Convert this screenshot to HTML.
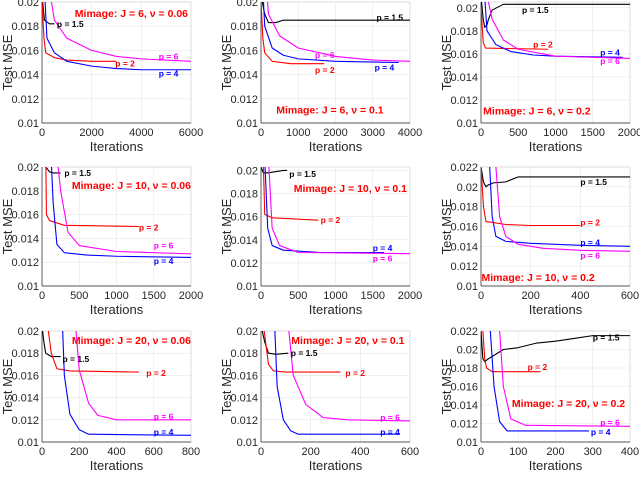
<!DOCTYPE html>
<html><head><meta charset="utf-8">
<style>
body{margin:0;background:#fff;}
svg{display:block;font-family:"Liberation Sans",sans-serif;}
</style></head>
<body>
<svg id="chart" width="640" height="477" viewBox="0 0 640 477"></svg>
<script>
// ---- data ----
const colX0 = [42, 261, 481];
const rowY = [[2,123],[167,286],[331,442]];
const panelXMax = [6000,4000,2000, 2000,2000,600, 800,600,400];
const panelYMax = [0.02,0.02,0.0205, 0.02,0.0203,0.022, 0.02,0.02,0.022];
const panelXTicks = [[0,2000,4000,6000],[0,1000,2000,3000,4000],[0,500,1000,1500,2000],
  [0,500,1000,1500,2000],[0,500,1000,1500,2000],[0,200,400,600],
  [0,200,400,600,800],[0,200,400,600],[0,100,200,300,400]];
const yTicks20 = [0.01,0.012,0.014,0.016,0.018,0.02];
const yTicks22 = [0.01,0.012,0.014,0.016,0.018,0.02,0.022];
const panelTitles = ["Mimage: J = 6, ν = 0.06","Mimage: J = 6, ν = 0.1","Mimage: J = 6, ν = 0.2",
  "Mimage: J = 10, ν = 0.06","Mimage: J = 10, ν = 0.1","Mimage: J = 10, ν = 0.2",
  "Mimage: J = 20, ν = 0.06","Mimage: J = 20, ν = 0.1","Mimage: J = 20, ν = 0.2"];
const titlePos = [[3600,0.0191],[1850,0.0111],[750,0.0111],[1200,0.0185],[1200,0.0185],[230,0.0109],[480,0.0192],[350,0.0192],[235,0.0142]];
const seriesNames = ["p = 1.5","p = 2","p = 4","p = 6"];
const seriesColors = ["#000000","#ff0000","#0000ff","#ff00ff"];
const p1Black=[[0,0.0205],[100,0.0185],[300,0.0182],[500,0.0182]];
const p1Red=[[0,0.02],[80,0.017],[150,0.0158],[500,0.0154],[1000,0.0152],[2000,0.0151],[3000,0.0151]];
const p1Blue=[[100,0.021],[200,0.017],[500,0.0158],[1000,0.0151],[2000,0.0147],[3000,0.0145],[4000,0.0144],[6000,0.0144]];
const p1Mag=[[300,0.021],[500,0.0185],[1000,0.017],[2000,0.016],[3000,0.0155],[4000,0.0153],[6000,0.0151]];
const p2Black=[[0,0.0205],[100,0.019],[200,0.0183],[400,0.0183],[600,0.0185],[4000,0.0185]];
const p2Red=[[0,0.02],[50,0.017],[100,0.0158],[300,0.0151],[800,0.0149],[1700,0.0149]];
const p2Blue=[[50,0.021],[100,0.018],[300,0.0162],[600,0.0156],[1000,0.0153],[2000,0.0151],[3700,0.015]];
const p2Mag=[[150,0.021],[200,0.019],[500,0.0172],[1000,0.0162],[2000,0.0155],[3000,0.0152],[4000,0.0151]];
const p3Black=[[0,0.021],[30,0.019],[50,0.0183],[80,0.0185],[100,0.019],[150,0.0198],[300,0.0203],[2000,0.0203]];
const p3Red=[[0,0.02],[30,0.017],[60,0.0165],[900,0.0164]];
const p3Blue=[[50,0.021],[80,0.018],[200,0.0168],[400,0.0162],[700,0.0159],[1000,0.0158],[1900,0.0157]];
const p3Mag=[[100,0.0205],[150,0.019],[300,0.0172],[500,0.0164],[1000,0.0158],[2000,0.0156]];
const p4Black=[[0,0.0205],[50,0.02],[100,0.0196],[150,0.0195],[250,0.0195]];
const p4Red=[[50,0.021],[60,0.016],[100,0.0155],[300,0.0151],[1300,0.015]];
const p4Blue=[[120,0.021],[150,0.017],[200,0.0135],[300,0.0128],[600,0.0126],[1000,0.0125],[2000,0.0124]];
const p4Mag=[[200,0.021],[250,0.018],[350,0.0145],[500,0.0134],[1000,0.0129],[2000,0.0127]];
const p5Black=[[0,0.0203],[30,0.0198],[100,0.0198],[300,0.02],[350,0.02]];
const p5Red=[[30,0.021],[50,0.0162],[150,0.0159],[770,0.0157]];
const p5Blue=[[50,0.021],[90,0.015],[150,0.0135],[300,0.0131],[800,0.0129],[1650,0.0129]];
const p5Mag=[[100,0.021],[150,0.015],[250,0.0135],[500,0.0129],[2000,0.0128]];
const p6Black=[[0,0.022],[10,0.0205],[20,0.02],[30,0.0202],[50,0.0204],[100,0.0205],[150,0.021],[600,0.021]];
const p6Red=[[0,0.022],[10,0.018],[20,0.0165],[50,0.0164],[100,0.0162],[200,0.0161],[400,0.0161]];
const p6Blue=[[35,0.022],[45,0.017],[60,0.015],[100,0.0145],[200,0.0143],[400,0.0141],[600,0.014]];
const p6Mag=[[60,0.022],[75,0.017],[100,0.015],[150,0.0142],[250,0.0138],[400,0.0136],[600,0.0135]];
const p7Black=[[0,0.0205],[10,0.019],[20,0.018],[50,0.0177],[100,0.0177]];
const p7Red=[[30,0.0205],[50,0.018],[80,0.0166],[150,0.0164],[520,0.0163]];
const p7Blue=[[110,0.0205],[120,0.016],[150,0.0125],[200,0.0111],[250,0.0107],[800,0.0106]];
const p7Mag=[[180,0.0205],[200,0.0165],[250,0.0135],[300,0.0124],[400,0.012],[800,0.012]];
const p8Black=[[0,0.0205],[15,0.019],[30,0.018],[60,0.0179],[110,0.018]];
const p8Red=[[10,0.0205],[30,0.017],[50,0.0164],[100,0.0163],[320,0.0163]];
const p8Blue=[[55,0.0205],[65,0.015],[90,0.012],[120,0.011],[150,0.0107],[560,0.0107]];
const p8Mag=[[110,0.0205],[130,0.016],[180,0.0134],[250,0.0122],[350,0.012],[600,0.0119]];
const p9Black=[[0,0.022],[5,0.019],[10,0.0187],[20,0.019],[40,0.0195],[60,0.02],[100,0.0202],[150,0.0207],[200,0.0209],[250,0.0212],[300,0.0215],[400,0.0215]];
const p9Red=[[5,0.022],[10,0.019],[15,0.018],[30,0.0176],[160,0.0176]];
const p9Blue=[[25,0.022],[35,0.016],[50,0.0122],[70,0.0112],[290,0.0112]];
const p9Mag=[[50,0.022],[60,0.016],[80,0.0125],[120,0.0118],[400,0.0117]];
const panelSeries=[[p1Black,p1Red,p1Blue,p1Mag],[p2Black,p2Red,p2Blue,p2Mag],[p3Black,p3Red,p3Blue,p3Mag],
 [p4Black,p4Red,p4Blue,p4Mag],[p5Black,p5Red,p5Blue,p5Mag],[p6Black,p6Red,p6Blue,p6Mag],
 [p7Black,p7Red,p7Blue,p7Mag],[p8Black,p8Red,p8Blue,p8Mag],[p9Black,p9Red,p9Blue,p9Mag]];
const labelPos=[[[600,0.0182],[2950,0.0149],[4700,0.0141],[4700,0.0155]],
 [[3100,0.0187],[1450,0.0144],[3050,0.0146],[1450,0.0156]],
 [[550,0.0198],[700,0.0168],[1600,0.0161],[1600,0.0154]],
 [[300,0.0195],[1300,0.0149],[1500,0.0121],[1500,0.0134]],
 [[380,0.0197],[800,0.0157],[1500,0.0133],[1500,0.0124]],
 [[400,0.0205],[400,0.0164],[400,0.0144],[400,0.0131]],
 [[110,0.0175],[560,0.0162],[600,0.0109],[600,0.0123]],
 [[120,0.018],[340,0.0162],[480,0.0109],[480,0.0122]],
 [[300,0.0213],[125,0.0181],[295,0.0111],[320,0.0121]]];

// ---- render ----
const NS="http://www.w3.org/2000/svg";
const svg=document.getElementById('chart');
function mk(tag,attrs,parent){const e=document.createElementNS(NS,tag);for(const k in attrs)e.setAttribute(k,attrs[k]);(parent||svg).appendChild(e);return e;}
const W=149;
const defs=mk('defs',{});
for(let p=0;p<9;p++){
  const r=Math.floor(p/3),c=p%3;
  const x0=colX0[c],x1=x0+W,yb=rowY[r][1],yt=rowY[r][0];
  const yMin=0.01,yMax=panelYMax[p],xMax=panelXMax[p];
  const xs=v=>x0+v/xMax*W;
  const ys=v=>yb-(v-yMin)/(yMax-yMin)*(yb-yt);
  const g=mk('g',{});
  
  
  const cp=mk('clipPath',{id:'cp'+p},defs);
  mk('rect',{x:x0,y:yt,width:W,height:yb-yt},cp);
  const yt_=yMax>0.021?yTicks22:yTicks20;
  yt_.forEach(v=>{
    const gl=mk('line',{x1:x0,x2:x1,y1:ys(v),y2:ys(v),stroke:'#e6e6e6','stroke-width':0.6},g);
    
    
    const t=mk('text',{x:x0-3,y:ys(v)+4,'text-anchor':'end','font-size':11,fill:'#262626'},g);
    t.textContent=String(v);
    
    
  });
  panelXTicks[p].forEach(v=>{
    mk('line',{x1:xs(v),x2:xs(v),y1:yt,y2:yb,stroke:'#e6e6e6','stroke-width':0.6},g);
    const t=mk('text',{x:xs(v),y:yb+13,'text-anchor':'middle','font-size':11,fill:'#262626'},g);
    t.textContent=String(v);
    
    
  });
  mk('rect',{x:x0,y:yt,width:W,height:yb-yt,fill:'none',stroke:'#d0d0d0','stroke-width':0.6},g);
  mk('line',{x1:x0,x2:x0,y1:yt,y2:yb,stroke:'#262626','stroke-width':0.7},g);
  mk('line',{x1:x0,x2:x1,y1:yb,y2:yb,stroke:'#262626','stroke-width':0.7},g);
  const xl=mk('text',{x:x0+W/2,y:yb+28,'text-anchor':'middle','font-size':13,fill:'#262626'},g);
  xl.textContent='Iterations';
  
  
  const ym=(yt+yb)/2, yx=x0-34;
  const yl=mk('text',{x:yx,y:ym+4,'text-anchor':'middle','font-size':13,fill:'#262626',transform:`rotate(-90 ${yx} ${ym})`},g);
  yl.textContent='Test MSE';
  
  
  const lg=mk('g',{'clip-path':`url(#cp${p})`},g);
  panelSeries[p].forEach((s,i)=>{
    const pl=mk('polyline',{points:s.map(d=>xs(d[0])+','+ys(d[1])).join(' '),fill:'none',stroke:seriesColors[i],'stroke-width':1.1,'stroke-linejoin':'round'},lg);
    
    
    const lp=labelPos[p][i];
    const t=mk('text',{x:xs(lp[0]),y:ys(lp[1])+3,'font-size':8.5,'font-weight':'bold',fill:seriesColors[i]},g);
    t.textContent=seriesNames[i];
    
    
  });
  const tp=titlePos[p];
  const tt=mk('text',{x:xs(tp[0]),y:ys(tp[1])+4,'text-anchor':'middle','font-size':10.5,'font-weight':'bold',fill:'#ff0000'},g);
  tt.textContent=panelTitles[p];
  
  
}
</script>
</body></html>
